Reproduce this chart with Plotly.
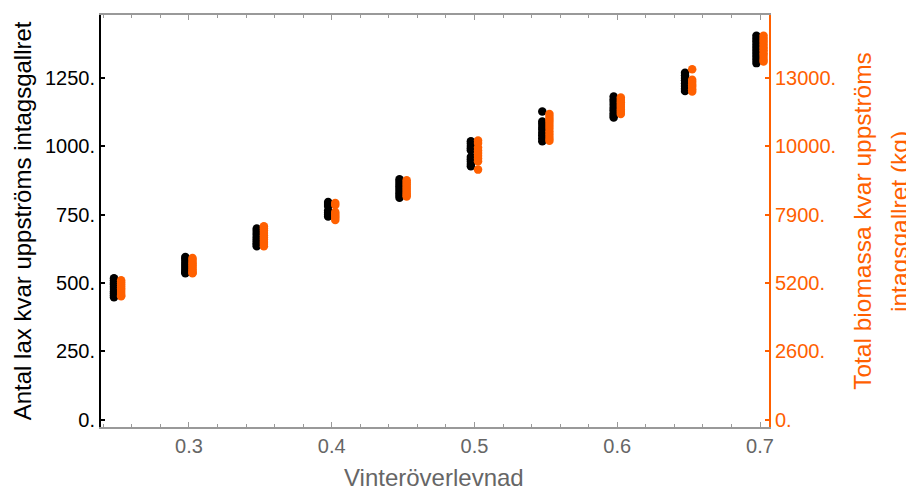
import plotly.graph_objects as go

survival = [0.25, 0.30, 0.35, 0.40, 0.45, 0.50, 0.55, 0.60, 0.65, 0.70]

# Number of salmon remaining upstream of the intake screen (left axis)
fish = [
    [517, 509, 501, 494, 486, 478, 469, 462, 455, 448],
    [595, 589, 581, 573, 566, 558, 551, 544, 539, 535],
    [699, 691, 683, 675, 667, 660, 652, 645, 640, 634],
    [796, 789, 781, 765, 757, 750, 743],
    [879, 871, 862, 854, 845, 836, 828, 820, 812],
    [1018, 1010, 1001, 993, 985, 961, 952, 944, 935, 927],
    [1127, 1090, 1081, 1070, 1061, 1049, 1040, 1029, 1018],
    [1182, 1172, 1163, 1152, 1141, 1132, 1121, 1112, 1105],
    [1269, 1259, 1250, 1241, 1229, 1220, 1210, 1202],
    [1404, 1393, 1383, 1371, 1360, 1349, 1338, 1327, 1316, 1304],
]

# Total biomass remaining upstream of the intake screen, kg (right axis)
biomass = [
    [5300, 5225, 5150, 5075, 5000, 4930, 4850, 4780, 4720, 4690],
    [6150, 6085, 6000, 5930, 5860, 5790, 5720, 5650, 5590, 5565],
    [7360, 7280, 7190, 7100, 7010, 6930, 6850, 6760, 6680, 6595],
    [8240, 8160, 7900, 7820, 7750, 7680, 7590],
    [9110, 9020, 8940, 8860, 8780, 8700, 8620, 8540, 8490],
    [10620, 10520, 10350, 10240, 10140, 10040, 9930, 9830, 9510],
    [11630, 11520, 11420, 11320, 11210, 11090, 10960, 10840, 10710, 10610],
    [12250, 12160, 12070, 11980, 11890, 11800, 11710, 11630],
    [13330, 12930, 12840, 12750, 12660, 12570, 12480],
    [14600, 14490, 14380, 14270, 14160, 14050, 13940, 13830, 13720, 13620],
]

x_ticks = [0.3, 0.4, 0.5, 0.6, 0.7]
x_tick_text = ["0.3", "0.4", "0.5", "0.6", "0.7"]
left_ticks = [0, 250, 500, 750, 1000, 1250]
left_tick_text = ["0.", "250.", "500.", "750.", "1000.", "1250."]
right_ticks = [0, 2600, 5200, 7800, 10400, 13000]
right_tick_text = ["0.", "2600.", "5200.", "7900.", "10000.", "13000."]

ORANGE = "#FF6000"
GRAY = "#999999"
FONT = "Liberation Sans, Arial, sans-serif"
OFFSET = 0.0025
KG_PER_FISH = 10.4
LEFT_RANGE = [-27, 1480]

bx, by, ox, oy = [], [], [], []
for s, f, b in zip(survival, fish, biomass):
    bx += [s - OFFSET] * len(f)
    by += f
    ox += [s + OFFSET] * len(b)
    oy += b

fig = go.Figure()
fig.add_trace(go.Scatter(x=bx, y=by, mode="markers", yaxis="y",
                         marker=dict(color="black", size=8.5, line=dict(width=0)),
                         showlegend=False))
fig.add_trace(go.Scatter(x=ox, y=oy, mode="markers", yaxis="y2",
                         marker=dict(color=ORANGE, size=8.5, line=dict(width=0)),
                         showlegend=False))

# page body has an 8px margin, so the figure is 8px smaller and shifted
fig.update_layout(
    width=906, height=482,
    margin=dict(l=93, r=145, t=5, b=63),
    plot_bgcolor="white", paper_bgcolor="white",
    font=dict(family=FONT, size=20),
    xaxis=dict(
        range=[0.2384, 0.7063], showgrid=False, zeroline=False,
        showline=True, linecolor=GRAY, linewidth=1.5, mirror="ticks",
        ticks="inside", ticklen=5, tickcolor=GRAY, tickwidth=1,
        tickvals=x_ticks, ticktext=x_tick_text,
        tickfont=dict(color="#666666", size=20),
        minor=dict(dtick=0.02, tick0=0.24, ticks="inside", ticklen=3,
                   tickcolor=GRAY, showgrid=False),
    ),
    yaxis=dict(
        range=LEFT_RANGE, showgrid=False, zeroline=False,
        showline=True, linecolor="black", linewidth=2,
        ticks="inside", ticklen=4, tickcolor="black", tickwidth=1.5,
        tickvals=left_ticks, ticktext=left_tick_text,
        tickfont=dict(color="black", size=20),
    ),
    yaxis2=dict(
        overlaying="y", side="right",
        range=[LEFT_RANGE[0] * KG_PER_FISH, LEFT_RANGE[1] * KG_PER_FISH],
        showgrid=False, zeroline=False,
        showline=True, linecolor=ORANGE, linewidth=2,
        ticks="inside", ticklen=4, tickcolor=ORANGE, tickwidth=1.5,
        tickvals=right_ticks, ticktext=right_tick_text,
        tickfont=dict(color=ORANGE, size=20),
    ),
    annotations=[
        dict(text="Vinteröverlevnad", xref="paper", yref="paper",
             x=0.4987, y=-0.1216, xanchor="center", yanchor="middle",
             showarrow=False, font=dict(size=24, color="#666666")),
        dict(text="Antal lax kvar uppströms intagsgallret", xref="paper", yref="paper",
             x=-0.1178, y=0.5, xanchor="center", yanchor="middle", textangle=-90,
             showarrow=False, font=dict(size=24, color="black")),
        dict(text="Total biomassa kvar uppströms", xref="paper", yref="paper",
             x=1.139, y=0.5, xanchor="center", yanchor="middle", textangle=-90,
             showarrow=False, font=dict(size=24.5, color=ORANGE)),
        dict(text="intagsgallret (kg)", xref="paper", yref="paper",
             x=1.1946, y=0.5, xanchor="center", yanchor="middle", textangle=-90,
             showarrow=False, font=dict(size=24.5, color=ORANGE)),
    ],
)

fig.write_html("out.html")
